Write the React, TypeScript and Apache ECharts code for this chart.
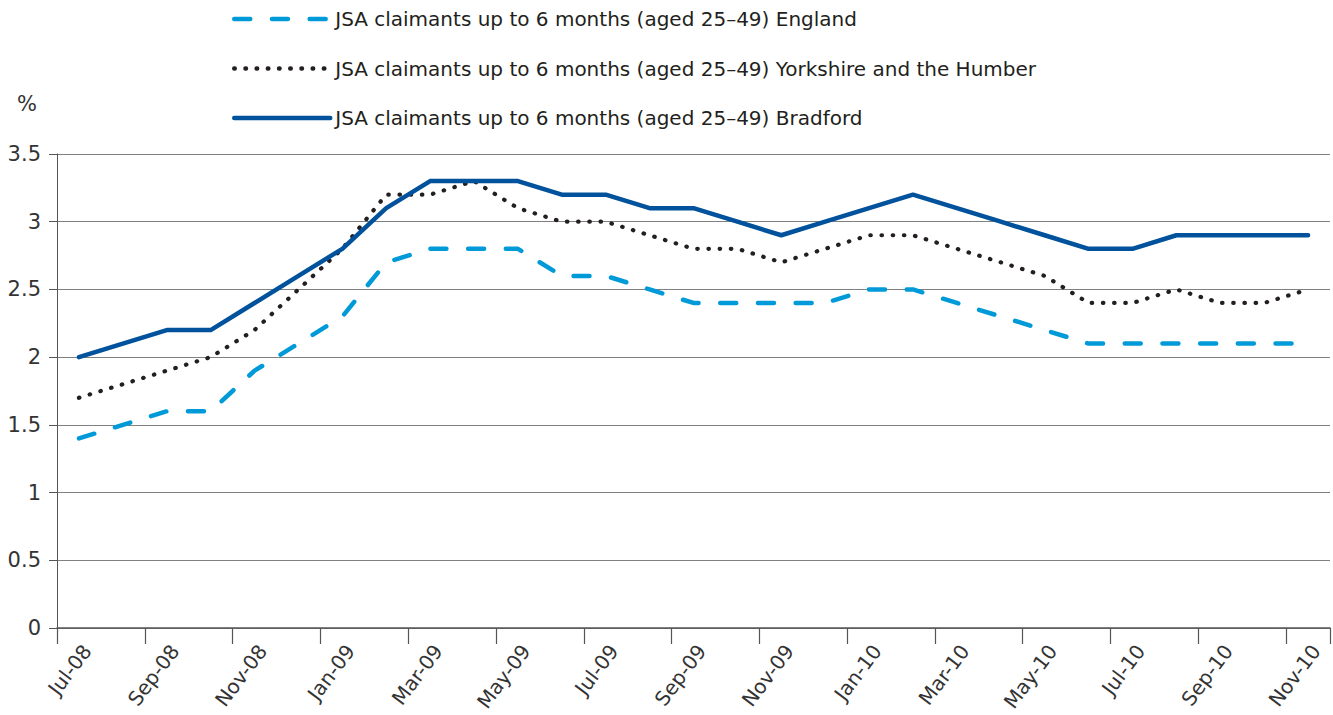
import React, { useEffect, useRef } from "react";
import * as echarts from "echarts";

const months = [
  "Jul-08", "Aug-08", "Sep-08", "Oct-08", "Nov-08", "Dec-08",
  "Jan-09", "Feb-09", "Mar-09", "Apr-09", "May-09", "Jun-09",
  "Jul-09", "Aug-09", "Sep-09", "Oct-09", "Nov-09", "Dec-09",
  "Jan-10", "Feb-10", "Mar-10", "Apr-10", "May-10", "Jun-10",
  "Jul-10", "Aug-10", "Sep-10", "Oct-10", "Nov-10",
];

const england = [
  1.4, 1.5, 1.6, 1.6, 1.9, 2.1, 2.3, 2.7, 2.8, 2.8, 2.8, 2.6, 2.6, 2.5, 2.4,
  2.4, 2.4, 2.4, 2.5, 2.5, 2.4, 2.3, 2.2, 2.1, 2.1, 2.1, 2.1, 2.1, 2.1,
];

const yorkshire = [
  1.7, 1.8, 1.9, 2.0, 2.2, 2.5, 2.8, 3.2, 3.2, 3.3, 3.1, 3.0, 3.0, 2.9, 2.8,
  2.8, 2.7, 2.8, 2.9, 2.9, 2.8, 2.7, 2.6, 2.4, 2.4, 2.5, 2.4, 2.4, 2.5,
];

const bradford = [
  2.0, 2.1, 2.2, 2.2, 2.4, 2.6, 2.8, 3.1, 3.3, 3.3, 3.3, 3.2, 3.2, 3.1, 3.1,
  3.0, 2.9, 3.0, 3.1, 3.2, 3.1, 3.0, 2.9, 2.8, 2.8, 2.9, 2.9, 2.9, 2.9,
];

const seriesNames = [
  "JSA claimants up to 6 months (aged 25\u201349) England",
  "JSA claimants up to 6 months (aged 25\u201349) Yorkshire and the Humber",
  "JSA claimants up to 6 months (aged 25\u201349) Bradford",
];

const FONT = "DejaVu Sans";

export default function App() {
  const ref = useRef<HTMLDivElement>(null);

  useEffect(() => {
    if (!ref.current) return;
    const chart = echarts.init(ref.current, undefined, { renderer: "svg" });
    chart.setOption({
      animation: false,
      backgroundColor: "#ffffff",
      textStyle: { fontFamily: FONT },
      legend: {
        orient: "vertical",
        left: 227,
        top: 4,
        itemWidth: 96,
        itemHeight: 20,
        itemGap: 29.5,
        itemStyle: { opacity: 0 },
        lineStyle: { width: 4.5, cap: "round" },
        textStyle: {
          fontFamily: FONT,
          fontSize: 20,
          color: "#231f20",
          lineHeight: 20,
        },
        data: seriesNames,
      },
      grid: { left: 57, right: 3, top: 154, bottom: 87, containLabel: false },
      xAxis: {
        type: "category",
        data: months,
        boundaryGap: true,
        axisLine: { show: true, lineStyle: { color: "#555555", width: 1.5 } },
        axisTick: {
          show: true,
          interval: 1,
          length: 16,
          lineStyle: { color: "#555555", width: 1.2 },
        },
        axisLabel: {
          interval: 1,
          rotate: 53,
          margin: 13,
          verticalAlign: "top",
          fontFamily: FONT,
          fontSize: 20,
          color: "#333333",
        },
        splitLine: { show: false },
      },
      yAxis: {
        type: "value",
        min: 0,
        max: 3.5,
        interval: 0.5,
        name: "%",
        nameLocation: "end",
        nameGap: 40,
        nameTextStyle: {
          fontFamily: FONT,
          fontSize: 21,
          color: "#333333",
          padding: [0, 60, 0, 0],
        },
        axisLine: { show: true, lineStyle: { color: "#555555", width: 1 } },
        axisTick: { show: true, length: 8, lineStyle: { color: "#555555" } },
        axisLabel: {
          margin: 16,
          fontFamily: FONT,
          fontSize: 21,
          color: "#333333",
        },
        splitLine: { show: true, lineStyle: { color: "#808080", width: 1.2 } },
      },
      series: [
        {
          name: seriesNames[0],
          type: "line",
          data: england,
          symbol: "none",
          color: "#009ad9",
          lineStyle: {
            color: "#009ad9",
            width: 4.5,
            type: [16, 21.7],
            cap: "round",
            join: "round",
          },
          z: 2,
        },
        {
          name: seriesNames[1],
          type: "line",
          data: yorkshire,
          symbol: "none",
          color: "#231f20",
          lineStyle: {
            color: "#231f20",
            width: 4.2,
            type: [0.5, 10.7],
            cap: "round",
            join: "round",
          },
          z: 3,
        },
        {
          name: seriesNames[2],
          type: "line",
          data: bradford,
          symbol: "none",
          color: "#00529c",
          lineStyle: {
            color: "#00529c",
            width: 4.5,
            type: "solid",
            cap: "round",
            join: "round",
          },
          z: 4,
        },
      ],
    });
    return () => chart.dispose();
  }, []);

  return (
    <div
      ref={ref}
      style={{ position: "fixed", left: 0, top: 0, width: 1333, height: 715 }}
    />
  );
}
